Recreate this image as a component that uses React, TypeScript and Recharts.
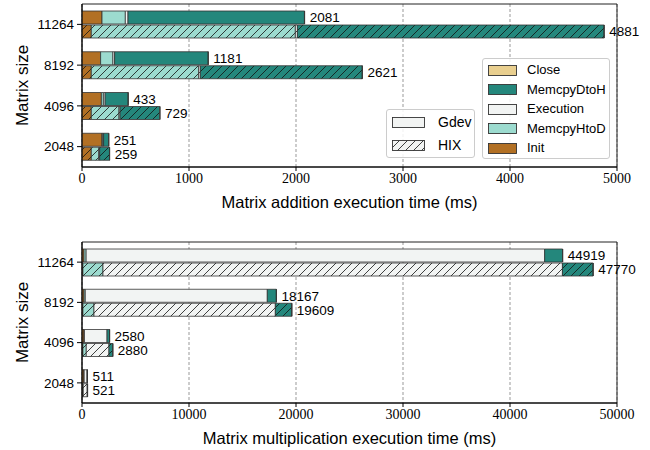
import React from 'react';
import { BarChart, Bar, XAxis, YAxis, CartesianGrid, ReferenceArea, LabelList } from 'recharts';

const sizes = ['11264', '8192', '4096', '2048'];
const phases = ['Init', 'MemcpyHtoD', 'Execution', 'MemcpyDtoH', 'Close'];
const legendOrder = ['Close', 'MemcpyDtoH', 'Execution', 'MemcpyHtoD', 'Init'];

// Matrix addition (ms)
const addGdevInit = [187, 174, 181, 187];
const addGdevHtoD = [218, 115, 19, 9];
const addGdevExec = [25, 16, 16, 6];
const addGdevDtoH = [1649, 874, 215, 47];
const addGdevClose = [2, 2, 2, 2];
const addGdevTotal = [2081, 1181, 433, 251];

const addHixInit = [87, 87, 87, 87];
const addHixHtoD = [1907, 1003, 259, 69];
const addHixExec = [19, 16, 10, 9];
const addHixDtoH = [2866, 1513, 371, 92];
const addHixClose = [2, 2, 2, 2];
const addHixTotal = [4881, 2621, 729, 259];

// Matrix multiplication (ms)
const mulGdevInit = [187, 187, 187, 187];
const mulGdevHtoD = [200, 120, 40, 15];
const mulGdevExec = [42853, 17013, 2113, 270];
const mulGdevDtoH = [1677, 845, 238, 37];
const mulGdevClose = [2, 2, 2, 2];
const mulGdevTotal = [44919, 18167, 2580, 511];

const mulHixInit = [87, 87, 87, 87];
const mulHixHtoD = [1873, 1033, 313, 30];
const mulHixExec = [42940, 16950, 2120, 370];
const mulHixDtoH = [2868, 1537, 358, 32];
const mulHixClose = [2, 2, 2, 2];
const mulHixTotal = [47770, 19609, 2880, 521];

const addTicks = [0, 1000, 2000, 3000, 4000, 5000];
const mulTicks = [0, 10000, 20000, 30000, 40000, 50000];

const colors: Record<string, string> = {
  Init: '#b27024',
  MemcpyHtoD: '#9cdbcf',
  Execution: '#f2f4f3',
  MemcpyDtoH: '#24877c',
  Close: '#e9cf8f',
};

const build = (g: number[][], gt: number[], h: number[][], ht: number[]) =>
  sizes.map((s, i) => {
    const row: any = { size: s, gTotal: gt[i], hTotal: ht[i] };
    phases.forEach((p, k) => {
      row['g' + p] = g[k][i];
      row['h' + p] = h[k][i];
    });
    return row;
  });

const addData = build(
  [addGdevInit, addGdevHtoD, addGdevExec, addGdevDtoH, addGdevClose], addGdevTotal,
  [addHixInit, addHixHtoD, addHixExec, addHixDtoH, addHixClose], addHixTotal
);
const mulData = build(
  [mulGdevInit, mulGdevHtoD, mulGdevExec, mulGdevDtoH, mulGdevClose], mulGdevTotal,
  [mulHixInit, mulHixHtoD, mulHixExec, mulHixDtoH, mulHixClose], mulHixTotal
);

const SANS = '"Liberation Sans", Arial, sans-serif';
const SERIF = '"Liberation Serif", "Times New Roman", serif';
const EDGE = '#333';

const Patterns = ({ prefix }: { prefix: string }) => (
  <defs>
    {phases.map((p) => (
      <pattern key={p} id={`${prefix}-hatch-${p}`} patternUnits="userSpaceOnUse" width={8} height={8}>
        <rect width={8} height={8} fill={colors[p]} />
        <path d="M0,8 L8,0 M-2,2 L2,-2 M6,10 L10,6" stroke="#111" strokeWidth={0.8} />
      </pattern>
    ))}
  </defs>
);

const Chart = ({ data, ticks, max, label, prefix, height, top, axisH, labelOffset }: any) => (
  <BarChart
    width={650}
    height={height}
    data={data}
    layout="vertical"
    margin={{ top, right: 33, left: 0, bottom: 0 }}
    barGap={1}
    barCategoryGap={0}
  >
    <Patterns prefix={prefix} />
    <CartesianGrid horizontal={false} strokeDasharray="3 2" stroke="#999" />
    <XAxis
      type="number"
      domain={[0, max]}
      ticks={ticks}
      height={axisH}
      tick={{ fontFamily: SERIF, fontSize: 14, fill: '#000' }}
      tickSize={4}
      tickMargin={2}
      stroke="#000"
      allowDataOverflow
      label={{ value: label, position: 'insideBottom', offset: labelOffset, style: { fontFamily: SANS, fontSize: 16.5, fill: '#000' } }}
    />
    <YAxis
      type="category"
      dataKey="size"
      width={82}
      tick={{ fontFamily: SANS, fontSize: 13.5, fill: '#000' }}
      tickSize={5}
      tickMargin={3}
      stroke="#000"
      label={{ value: 'Matrix size', angle: -90, position: 'insideLeft', offset: 22, style: { fontFamily: SANS, fontSize: 17, fill: '#000', textAnchor: 'middle' } }}
    />
    <ReferenceArea x1={0} x2={max} fill="none" stroke="#222" strokeWidth={1} ifOverflow="visible" />
    {phases.map((p) => (
      <Bar key={'g' + p} dataKey={'g' + p} stackId="g" barSize={13} fill={colors[p]} stroke={EDGE} strokeWidth={0.8} isAnimationActive={false}>
        {p === 'Close' && (
          <LabelList dataKey="gTotal" position="right" offset={5} style={{ fontFamily: SANS, fontSize: 13.5, fill: '#000' }} />
        )}
      </Bar>
    ))}
    {phases.map((p) => (
      <Bar key={'h' + p} dataKey={'h' + p} stackId="h" barSize={13} fill={`url(#${prefix}-hatch-${p})`} stroke={EDGE} strokeWidth={0.8} isAnimationActive={false}>
        {p === 'Close' && (
          <LabelList dataKey="hTotal" position="right" offset={5} style={{ fontFamily: SANS, fontSize: 13.5, fill: '#000' }} />
        )}
      </Bar>
    ))}
  </BarChart>
);

const boxStyle: React.CSSProperties = {
  position: 'absolute',
  background: 'rgba(255,255,255,0.85)',
  border: '1px solid #ccc',
  borderRadius: 3,
  fontFamily: SANS,
  fontSize: 13.5,
  color: '#000',
  boxSizing: 'border-box',
};

const SwatchSvg = ({ w, h, fill, hatch }: any) => (
  <svg width={w} height={h} style={{ display: 'block' }}>
    <defs>
      <pattern id="lg-hatch" patternUnits="userSpaceOnUse" width={8} height={8}>
        <rect width={8} height={8} fill={colors.Execution} />
        <path d="M0,8 L8,0 M-2,2 L2,-2 M6,10 L10,6" stroke="#111" strokeWidth={0.8} />
      </pattern>
    </defs>
    <rect x={0.5} y={0.5} width={w - 1} height={h - 1} fill={hatch ? 'url(#lg-hatch)' : fill} stroke={EDGE} strokeWidth={0.9} />
  </svg>
);

export default function App() {
  return (
    <div style={{ position: 'absolute', left: 0, top: 0, width: 650, height: 450, background: '#fff' }}>
      <div style={{ position: 'absolute', left: 0, top: 0 }}>
        <Chart data={addData} ticks={addTicks} max={5000} label="Matrix addition execution time (ms)" prefix="a" height={215} top={4} axisH={48} labelOffset={7} />
      </div>
      <div style={{ position: 'absolute', left: 0, top: 215 }}>
        <Chart data={mulData} ticks={mulTicks} max={50000} label="Matrix multiplication execution time (ms)" prefix="m" height={235} top={27} axisH={47} labelOffset={6} />
      </div>
      <div style={{ ...boxStyle, left: 386, top: 109, width: 89, height: 49 }}>
        {[
          ['Gdev', false],
          ['HIX', true],
        ].map(([name, hatch], i) => (
          <div key={String(name)} style={{ position: 'absolute', left: 5, top: 6 + i * 23, display: 'flex', alignItems: 'center', height: 12 }}>
            <SwatchSvg w={33} h={11} fill={colors.Execution} hatch={hatch} />
            <span style={{ marginLeft: 13, lineHeight: '12px', fontSize: 14 }}>{String(name)}</span>
          </div>
        ))}
      </div>
      <div style={{ ...boxStyle, left: 482, top: 58, width: 128, height: 101 }}>
        {legendOrder.map((p, i) => (
          <div key={p} style={{ position: 'absolute', left: 5, top: 5 + i * 19.5, display: 'flex', alignItems: 'center', height: 12 }}>
            <SwatchSvg w={29} h={11} fill={colors[p]} hatch={false} />
            <span style={{ marginLeft: 10, lineHeight: '12px', fontSize: 13 }}>{p}</span>
          </div>
        ))}
      </div>
    </div>
  );
}
